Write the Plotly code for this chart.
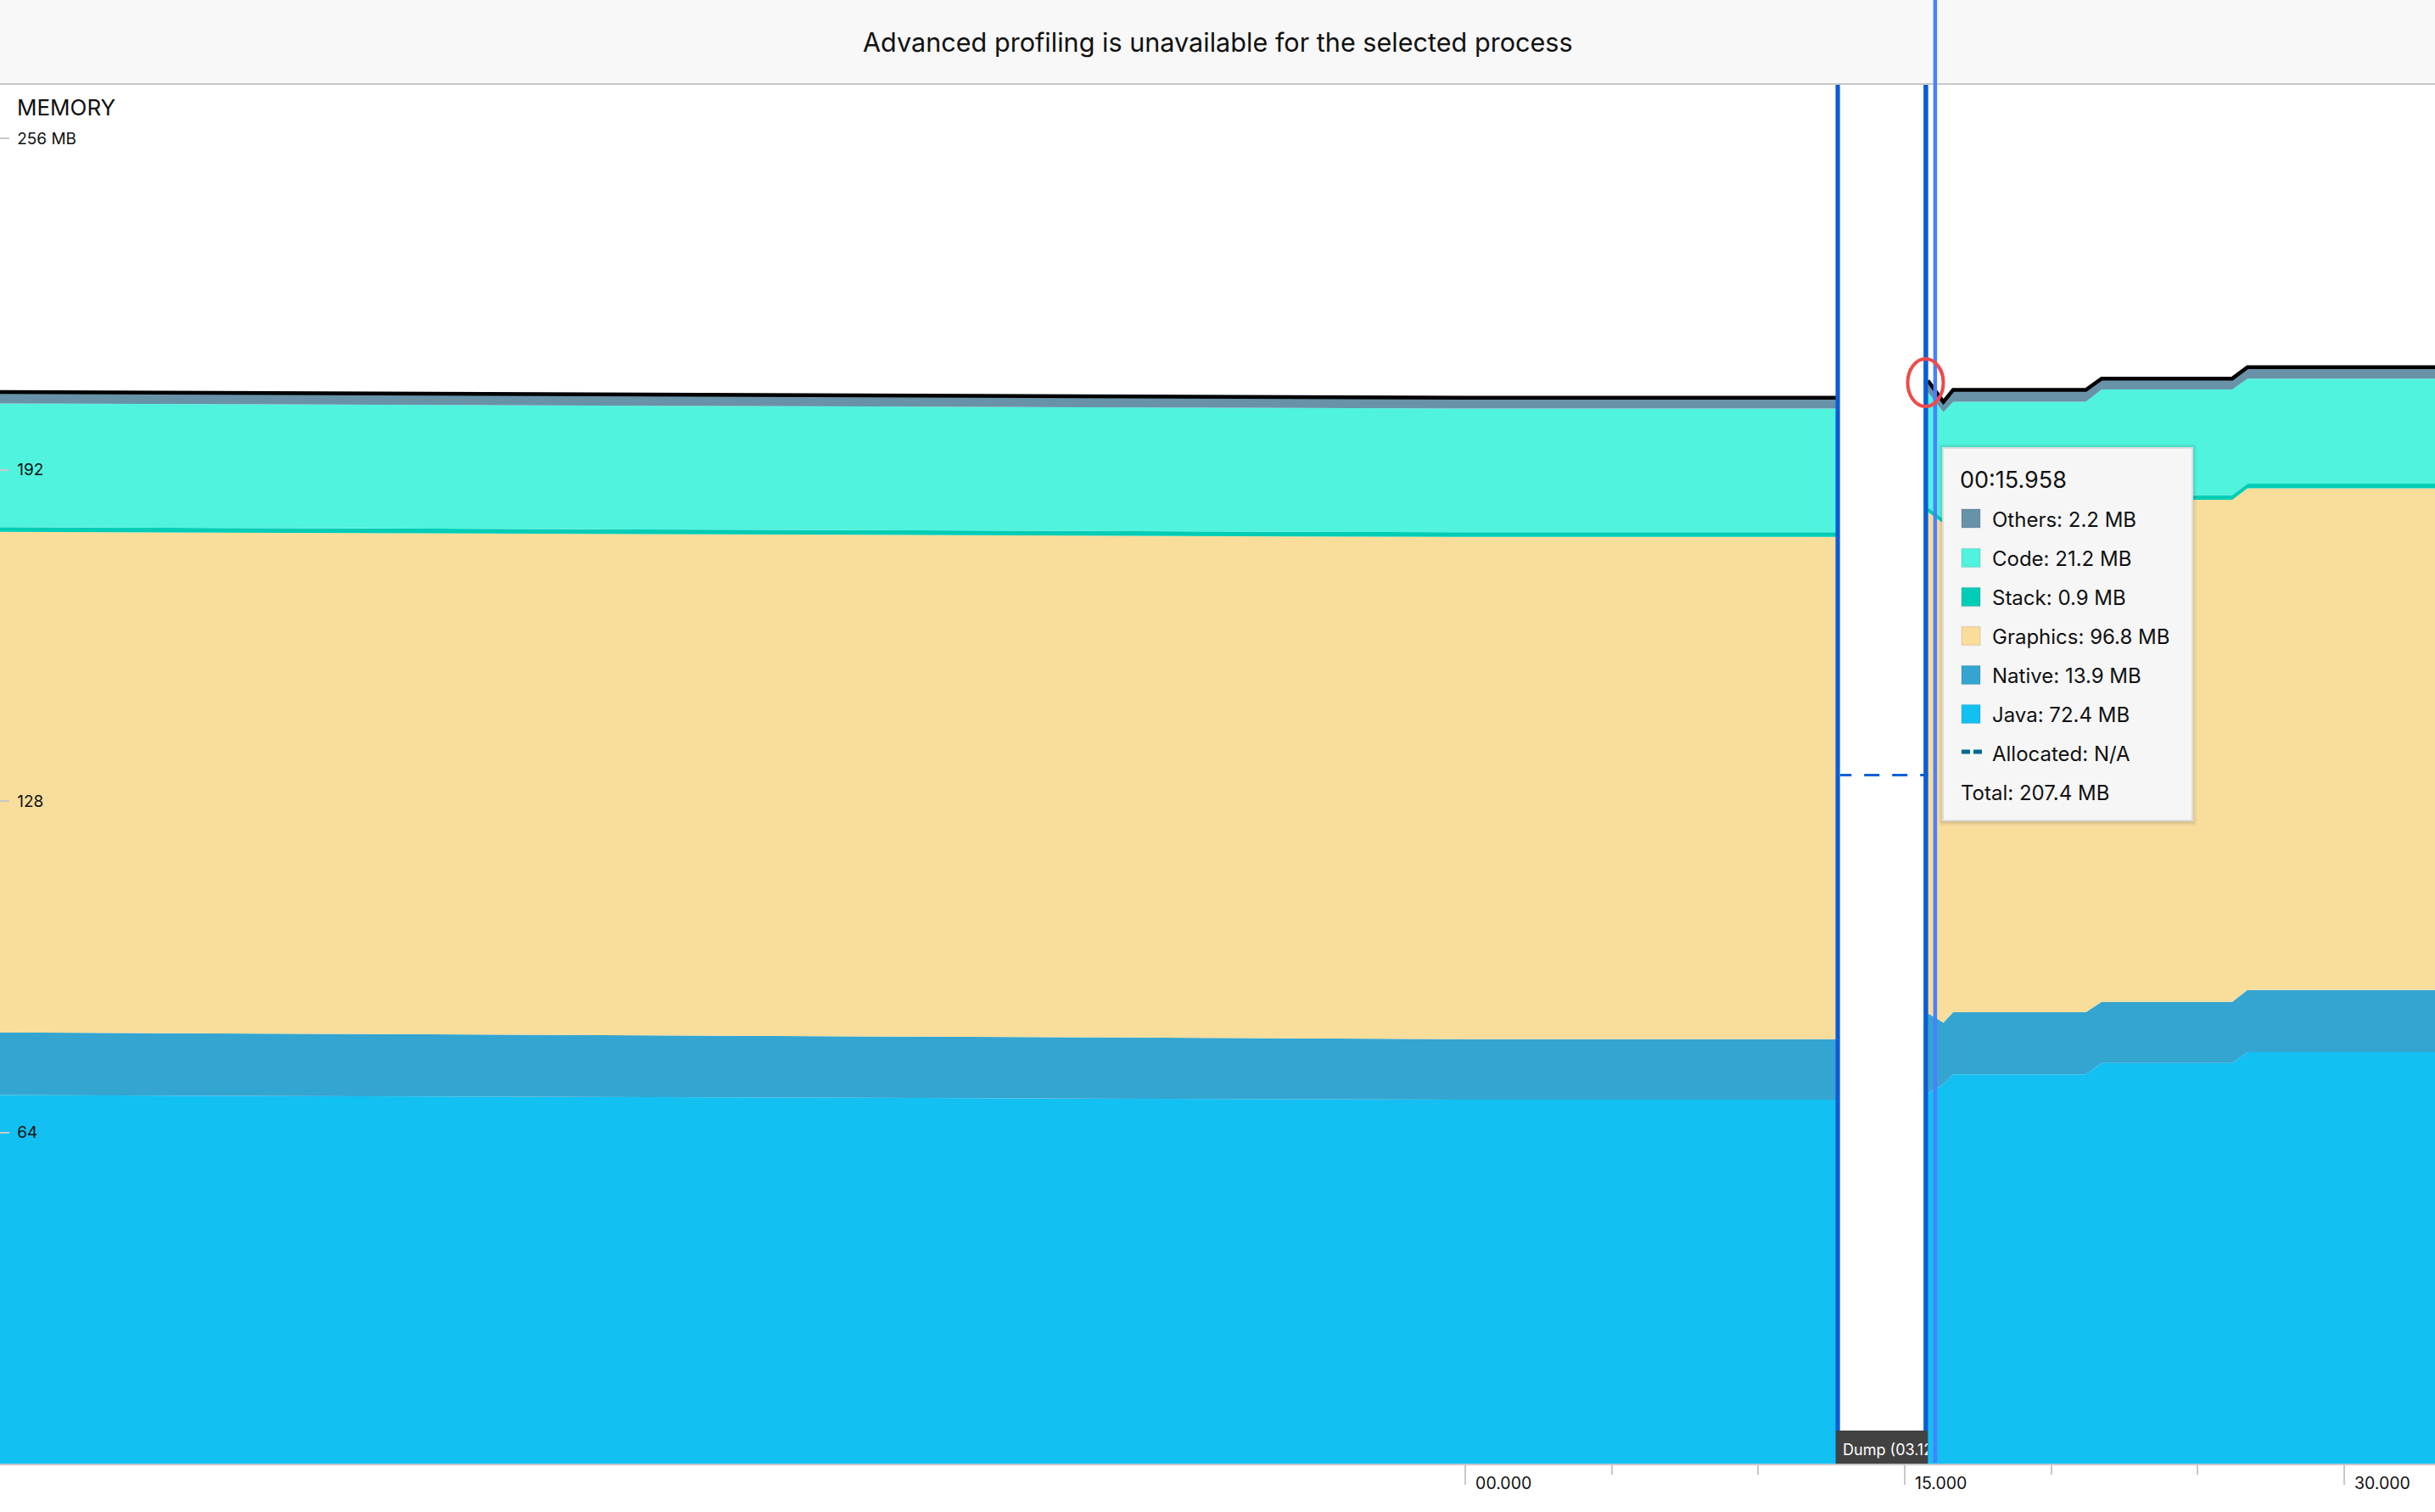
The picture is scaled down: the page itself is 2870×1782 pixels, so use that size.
import plotly.graph_objects as go

W, H = 2870, 1782
PLOT_TOP, PLOT_BOTTOM = 99, 1725
FONT = "Inter"

# ---- data (seconds, MB) ----
t_before = [-50.02, 0.0, 12.66]
java_before = [71.2, 70.3, 70.3]
native_before = [12.1, 11.7, 11.7]
graphics_before = [96.7, 97.0, 97.0]
stack_before = [0.9, 0.9, 0.9]
code_before = [23.9, 23.9, 23.9]
others_before = [2.2, 2.1, 2.1]

t_after = [15.79, 16.32, 16.65, 21.18, 21.72, 26.18, 26.70, 33.10]
java_after = [71.5, 73.3, 75.2, 75.2, 77.4, 77.4, 79.5, 79.5]
native_after = [15.5, 11.9, 12.0, 12.0, 11.8, 11.8, 12.0, 12.0]
graphics_after = [96.8, 96.4, 96.7, 96.7, 97.0, 97.0, 96.9, 96.9]
stack_after = [0.9, 0.9, 0.9, 0.9, 0.9, 0.9, 0.9, 0.9]
code_after = [22.3, 20.6, 20.3, 20.3, 20.4, 20.4, 20.3, 20.3]
others_after = [2.2, 2.0, 2.3, 2.3, 2.1, 2.1, 2.2, 2.2]

dump_start, dump_end = 12.66, 15.79
allocated_t = [12.66, 15.79]
allocated_mb = [133.0, 133.0]
cursor_t = 15.958

y_ticks = [64, 128, 192, 256]
y_labels = ["64", "128", "192", "256 MB"]
x_major = [0, 15, 30]
x_labels = ["00.000", "15.000", "30.000"]
x_minor = [5, 10, 20, 25]

series_names = ["Java", "Native", "Graphics", "Stack", "Code", "Others"]
colors = {"Others": "#6892a8", "Code": "#50f3dd", "Stack": "#00cdb5",
          "Graphics": "#f8dd9b", "Native": "#34a5d1", "Java": "#12c0f2"}

tooltip_time = "00:15.958"
tooltip_rows = [("Others: 2.2 MB", "Others"), ("Code: 21.2 MB", "Code"),
                ("Stack: 0.9 MB", "Stack"), ("Graphics: 96.8 MB", "Graphics"),
                ("Native: 13.9 MB", "Native"), ("Java: 72.4 MB", "Java")]
tooltip_alloc = "Allocated: N/A"
tooltip_total = "Total: 207.4 MB"

# ---- helpers ----
def px(x):
    return x / W

def py(y):
    return 1 - y / H

fig = go.Figure()

befores = [java_before, native_before, graphics_before, stack_before, code_before, others_before]
afters = [java_after, native_after, graphics_after, stack_after, code_after, others_after]
for group, t, layers in (("before", t_before, befores), ("after", t_after, afters)):
    for name, vals in zip(series_names, layers):
        top = name == "Others"
        fig.add_trace(go.Scatter(
            x=t, y=vals, name=name, stackgroup=group, mode="lines",
            fillcolor=colors[name],
            line=dict(color="#000000" if top else colors[name], width=4.5 if top else 0),
            showlegend=False, hoverinfo="skip"))

fig.add_trace(go.Scatter(x=allocated_t, y=allocated_mb, mode="lines", showlegend=False,
                         line=dict(color="#0a5fd8", width=3, dash="18px,15px"), hoverinfo="skip"))
y_top = 266.5
# dump boundaries: dark stroke, with a pale edge on the inner side of the left one
fig.add_trace(go.Scatter(x=[dump_start + 0.11, dump_start + 0.11], y=[0, y_top], mode="lines", showlegend=False,
                         line=dict(color="#a8c6fa", width=2), hoverinfo="skip"))
fig.add_trace(go.Scatter(x=[dump_start + 0.05, dump_start + 0.05], y=[0, y_top], mode="lines", showlegend=False,
                         line=dict(color="#0a5cd6", width=5), hoverinfo="skip"))
fig.add_trace(go.Scatter(x=[dump_end - 0.07, dump_end - 0.07], y=[0, y_top], mode="lines", showlegend=False,
                         line=dict(color="#0a5cd6", width=5.5), hoverinfo="skip"))

# Dump badge: its own tiny subplot so the label is clipped like the original
fig.add_trace(go.Scatter(x=[0, 1, 1, 0, 0], y=[0, 0, 1, 1, 0], xaxis="x2", yaxis="y2", mode="lines",
                         fill="toself", fillcolor="#424242", line=dict(width=0),
                         showlegend=False, hoverinfo="skip"))
fig.add_trace(go.Scatter(x=[0.075], y=[0.38], xaxis="x2", yaxis="y2", mode="text", text=["Dump (03.12"],
                         textposition="middle right", cliponaxis=True,
                         textfont=dict(family=FONT, size=18, color="#ffffff"),
                         showlegend=False, hoverinfo="skip"))

shapes = [
    dict(type="rect", xref="paper", yref="paper", x0=0, x1=1, y0=py(98), y1=1,
         fillcolor="#f8f8f8", line=dict(width=0), layer="below"),
    dict(type="line", xref="paper", yref="paper", x0=0, x1=1, y0=py(99), y1=py(99),
         line=dict(color="#c8c8c8", width=2), layer="above"),
    dict(type="line", xref="x", yref="paper", x0=cursor_t + 0.08, x1=cursor_t + 0.08, y0=py(1724), y1=1,
         line=dict(color="#4a80ff", width=4.5), layer="above"),
    dict(type="circle", xref="paper", yref="paper", x0=px(2248.5), x1=px(2290.5), y0=py(479), y1=py(423),
         line=dict(color="#f04a4a", width=4), layer="above"),
]
# tooltip panel with soft shadow
TL, TR, TT, TB = 2290, 2584, 528, 967
for grow, alpha in ((5, 0.05), (3, 0.07), (1, 0.10)):
    shapes.append(dict(type="rect", xref="paper", yref="paper", x0=px(TL - grow), x1=px(TR + grow),
                       y0=py(TB + grow + 1), y1=py(TT - grow),
                       fillcolor=f"rgba(60,60,60,{alpha})", line=dict(width=0), layer="above"))
shapes.append(dict(type="rect", xref="paper", yref="paper", x0=px(TL), x1=px(TR), y0=py(TB), y1=py(TT),
                   fillcolor="#f6f6f6", line=dict(color="#dedede", width=2), layer="above"))

annotations = []

def text(x, y, s, size, color="#111111", anchor="left"):
    annotations.append(dict(xref="paper", yref="paper", x=px(x), y=py(y), text=s, showarrow=False,
                            xanchor=anchor, yanchor="middle", borderpad=0,
                            font=dict(family=FONT, size=size, color=color)))

row_y = [611, 657.5, 703.5, 749.5, 795.5, 841.5]
for (label, key), y in zip(tooltip_rows, row_y):
    shapes.append(dict(type="rect", xref="paper", yref="paper", x0=px(2312), x1=px(2334), y0=py(y + 11), y1=py(y - 11),
                       fillcolor=colors[key], line=dict(color="rgba(0,0,0,0.08)", width=1.5), layer="above"))
    text(2347, y + 1, label, 24)
for a, b in ((2312, 2322), (2326, 2336)):
    shapes.append(dict(type="line", xref="paper", yref="paper", x0=px(a), x1=px(b), y0=py(886), y1=py(886),
                       line=dict(color="#006a8e", width=5), layer="above"))
text(2347, 888.5, tooltip_alloc, 24)
text(2310, 934.5, tooltip_total, 24)
text(2309, 565, tooltip_time, 27)

text(1435, 50, "Advanced profiling is unavailable for the selected process", 30.6, anchor="center")
text(19, 127, "MEMORY", 26)

fig.update_layout(
    width=W, height=H, margin=dict(l=0, r=0, t=0, b=0), autosize=False,
    paper_bgcolor="#ffffff", plot_bgcolor="#ffffff",
    shapes=shapes, annotations=annotations, showlegend=False,
    font=dict(family=FONT, color="#111111"),
    xaxis=dict(domain=[0, 1], range=[-50.02, 33.10], showgrid=False, zeroline=False,
               tickmode="array", tickvals=x_major, ticktext=x_labels,
               ticks="outside", ticklen=23, tickwidth=2, tickcolor="#c8c8c8",
               ticklabelposition="outside right", ticklabelstandoff=5, ticklabelshift=10,
               tickfont=dict(family=FONT, size=19.5, color="#111111"),
               minor=dict(tickmode="array", tickvals=x_minor, ticks="outside", ticklen=11,
                          tickwidth=2, tickcolor="#c8c8c8", showgrid=False),
               showline=True, linecolor="#c8c8c8", linewidth=2, anchor="y"),
    yaxis=dict(domain=[py(PLOT_BOTTOM), py(PLOT_TOP)], range=[0, y_top], showgrid=False, zeroline=False,
               tickmode="array", tickvals=y_ticks, ticktext=y_labels,
               ticks="inside", ticklen=11, tickwidth=2, tickcolor="#c8c8c8",
               ticklabelposition="inside", ticklabelstandoff=10,
               tickfont=dict(family=FONT, size=19, color="#111111"),
               showline=False, anchor="x"),
    xaxis2=dict(domain=[px(2164), px(2272)], range=[0, 1], visible=False, anchor="y2", fixedrange=True),
    yaxis2=dict(domain=[py(1725), py(1686)], range=[0, 1], visible=False, anchor="x2", fixedrange=True),
)

fig.write_html("out.html", config={"displayModeBar": False},
               post_script="document.body.style.margin='0';document.body.style.overflow='hidden';")
